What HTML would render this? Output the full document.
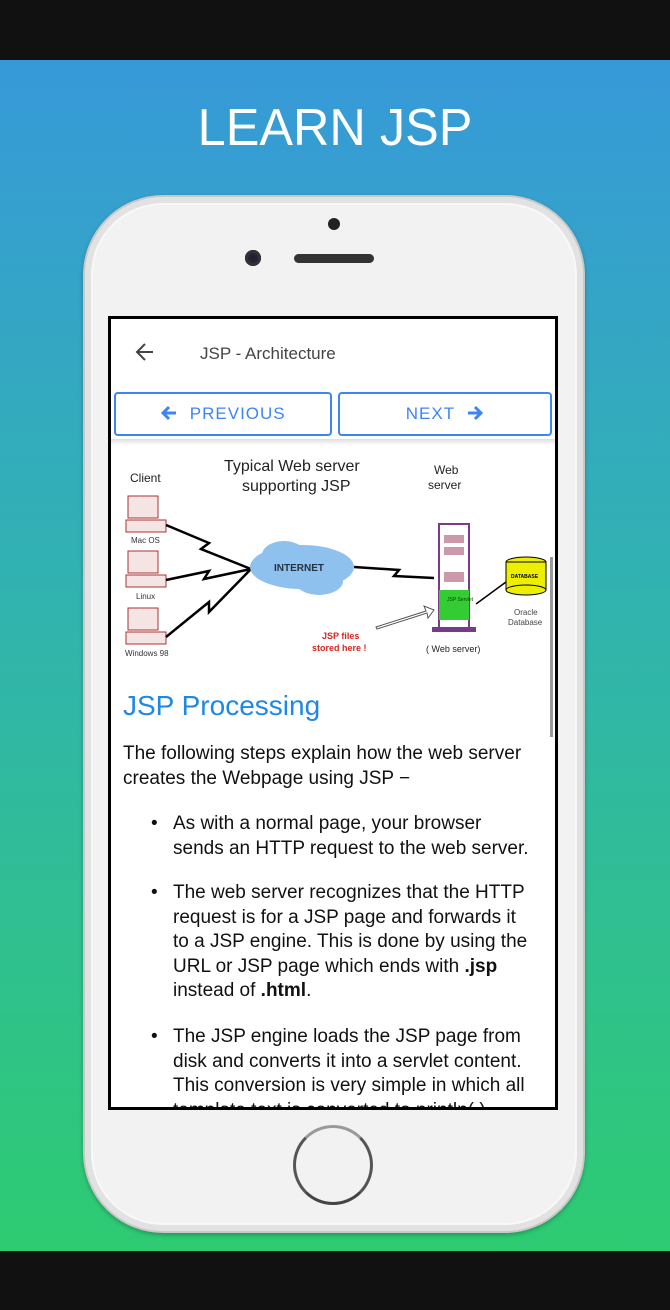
<!DOCTYPE html>
<html><head><style>
*{margin:0;padding:0;box-sizing:border-box}
body{width:670px;height:1310px;position:relative;overflow:hidden;font-family:"Liberation Sans",Arial,sans-serif;background:#111}
.bg{position:absolute;left:0;top:60px;width:670px;height:1191px;background:linear-gradient(#3799d9,#31b3b0 45%,#2ecb72)}
.title{position:absolute;top:98px;width:670px;text-align:center;color:#fff;font-size:52px;font-weight:300;letter-spacing:0px;transform:scaleX(0.97)}
.phone{position:absolute;left:83px;top:195px;width:502px;height:1038px;border-radius:80px;background:#f2f2f2;border:2px solid #c8c8c8;box-shadow:inset 0 0 0 6px #e2e2e2,inset 0 0 0 8px #f8f8f8,0 2px 4px rgba(0,0,0,.25)}
.screen{position:absolute;left:108px;top:316px;width:450px;height:794px;background:#fff;border:3px solid #000;overflow:hidden}
.t{position:absolute;font-size:19px;color:#111;line-height:24.6px;white-space:nowrap}
.btn{position:absolute;top:73px;height:44px;border:2px solid #3d84f5;border-radius:4px;color:#3d84f5;font-size:17px;letter-spacing:1px;text-align:center;line-height:40px}
.btn svg{vertical-align:-3px}
</style></head><body>
<div class="bg"></div>
<div class="title">LEARN JSP</div>
<div class="phone"></div>
<div style="position:absolute;left:328px;top:218px;width:12px;height:12px;border-radius:50%;background:#222"></div>
<div style="position:absolute;left:245px;top:250px;width:16px;height:16px;border-radius:50%;background:#222;box-shadow:inset 0 0 0 3px #333,inset 0 0 0 5px #224"></div>
<div style="position:absolute;left:294px;top:254px;width:80px;height:9px;border-radius:5px;background:#333"></div>
<div style="position:absolute;left:293px;top:1125px;width:80px;height:80px;border-radius:50%;border:3px solid #555;border-top-color:#999;border-bottom-color:#444;background:#f2f2f2"></div>
<div class="screen">
 <svg style="position:absolute;left:24px;top:23px" width="20" height="20" viewBox="0 0 20 20"><path d="M18 10H3M10 2L2 10l8 8" stroke="#444" stroke-width="2" fill="none"/></svg>
 <div class="t" style="left:89px;top:23px;font-size:17px;color:#444">JSP - Architecture</div>
 <div class="btn" style="left:3px;width:218px"><svg width="18" height="18" viewBox="0 0 18 18"><path d="M16 9H3M9 3L3 9l6 6" stroke="#3d84f5" stroke-width="3" fill="none"/></svg>&nbsp; PREVIOUS</div>
 <div class="btn" style="left:227px;width:214px">NEXT &nbsp;<svg width="18" height="18" viewBox="0 0 18 18"><path d="M2 9H15M9 3l6 6-6 6" stroke="#3d84f5" stroke-width="3" fill="none"/></svg></div>
 <div style="position:absolute;left:0;top:120px;width:444px;height:6px;background:linear-gradient(#ddd,#fff)"></div>
 <svg style="position:absolute;left:3px;top:128px" width="440" height="220" viewBox="0 0 440 220" font-family="Liberation Sans,Arial,sans-serif">
  <text x="110" y="24" font-size="16" fill="#222">Typical Web server</text>
  <text x="128" y="44" font-size="16" fill="#222">supporting JSP</text>
  <text x="16" y="35" font-size="12" fill="#222">Client</text>
  <text x="320" y="27" font-size="12" fill="#222">Web</text>
  <text x="314" y="42" font-size="12" fill="#222">server</text>
  <g fill="#f4e4e4" stroke="#a33" stroke-width="1">
   <rect x="14" y="49" width="30" height="22"/><rect x="12" y="73" width="40" height="12"/>
   <rect x="14" y="104" width="30" height="22"/><rect x="12" y="128" width="40" height="12"/>
   <rect x="14" y="161" width="30" height="22"/><rect x="12" y="185" width="40" height="12"/>
  </g>
  <text x="17" y="96" font-size="8" fill="#333">Mac OS</text>
  <text x="22" y="152" font-size="8" fill="#333">Linux</text>
  <text x="11" y="209" font-size="8" fill="#333">Windows 98</text>
  <g stroke="#000" stroke-width="2.5" fill="none">
   <path d="M52 78L95 96l-8 6 50 20"/><path d="M52 133L95 124l-5 8 47-10"/><path d="M52 190L95 155l0 10 42-43"/>
   <path d="M240 120L285 123l-5 6 40 2"/>
  </g>
  <ellipse cx="188" cy="120" rx="52" ry="22" fill="#8fc1ee"/>
  <ellipse cx="170" cy="108" rx="22" ry="14" fill="#8fc1ee"/><ellipse cx="205" cy="134" rx="24" ry="14" fill="#8fc1ee"/>
  <text x="160" y="124" font-size="10" font-weight="bold" fill="#234">INTERNET</text>
  <rect x="325" y="77" width="30" height="105" fill="#fff" stroke="#7a3a8a" stroke-width="2"/>
  <rect x="330" y="88" width="20" height="8" fill="#c9a" /><rect x="330" y="100" width="20" height="8" fill="#c9a"/><rect x="330" y="125" width="20" height="10" fill="#c9a"/>
  <rect x="325" y="143" width="30" height="30" fill="#3c3"/>
  <text x="333" y="154" font-size="5" fill="#040">JSP Servlet</text>
  <rect x="318" y="180" width="44" height="5" fill="#7a3a8a"/>
  <text x="312" y="205" font-size="9" fill="#222">( Web server)</text>
  <ellipse cx="412" cy="115" rx="20" ry="5" fill="#ee0" stroke="#000"/>
  <rect x="392" y="115" width="40" height="28" fill="#ee0" stroke="#000"/>
  <ellipse cx="412" cy="143" rx="20" ry="5" fill="#ee0" stroke="#000"/>
  <text x="397" y="131" font-size="5" font-weight="bold">DATABASE</text>
  <path d="M362 157L392 135" stroke="#000" stroke-width="1.5"/>
  <text x="400" y="168" font-size="8" fill="#444">Oracle</text><text x="394" y="178" font-size="8" fill="#444">Database</text>
  <path d="M262 180l50-16-2-5 10 4-6 8-1-5-50 16z" fill="#fff" stroke="#555"/>
  <text x="208" y="192" font-size="9" font-weight="bold" fill="#d22">JSP files</text>
  <text x="198" y="204" font-size="9" font-weight="bold" fill="#d22">stored here !</text>
 </svg>
 <div style="position:absolute;left:439px;top:238px;width:3px;height:180px;background:#999"></div>
 <div class="t" style="left:12px;top:370px;font-size:28px;color:#1e88e5;line-height:34px">JSP Processing</div>
 <div class="t" style="left:12px;top:423px">The following steps explain how the web server<br>creates the Webpage using JSP −</div>
 <div class="t" style="left:40px;top:493px">•</div>
 <div class="t" style="left:62px;top:493px">As with a normal page, your browser<br>sends an HTTP request to the web server.</div>
 <div class="t" style="left:40px;top:562px">•</div>
 <div class="t" style="left:62px;top:562px">The web server recognizes that the HTTP<br>request is for a JSP page and forwards it<br>to a JSP engine. This is done by using the<br>URL or JSP page which ends with <b>.jsp</b><br>instead of <b>.html</b>.</div>
 <div class="t" style="left:40px;top:706px">•</div>
 <div class="t" style="left:62px;top:706px">The JSP engine loads the JSP page from<br>disk and converts it into a servlet content.<br>This conversion is very simple in which all<br>template text is converted to println( )</div>
</div>
</body></html>
